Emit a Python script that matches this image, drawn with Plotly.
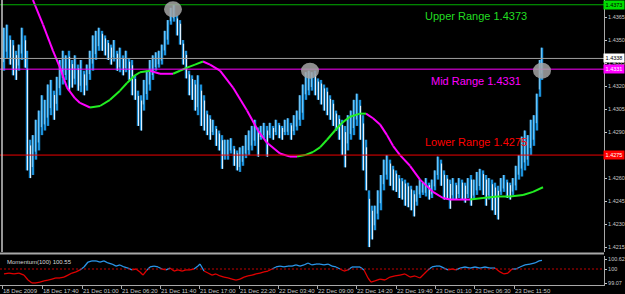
import plotly.graph_objects as go

# ---------------- data ----------------
bar_time = [4, 7, 10, 13, 16, 19, 22, 25, 27, 30,
            33, 36, 39, 42, 45, 48, 51, 54, 57, 60,
            63, 66, 69, 72, 75, 78, 81, 84, 87, 90,
            93, 96, 99, 102, 105, 108, 111, 114, 117, 120,
            123, 126, 129, 132, 135, 138, 141, 144, 147, 150,
            153, 156, 159, 162, 165, 168, 171, 174, 177, 180,
            183, 186, 189, 192, 195, 198, 201, 204, 207, 210,
            213, 216, 219, 222, 225, 228, 231, 234, 237, 240,
            243, 246, 249, 252, 255, 258, 261, 264, 267, 270,
            273, 276, 279, 282, 285, 288, 291, 294, 297, 300,
            303, 306, 309, 312, 315, 318, 321, 324, 327, 330,
            333, 336, 339, 342, 345, 348, 351, 354, 357, 360,
            363, 366, 369, 372, 375, 378, 381, 384, 387, 390,
            393, 396, 399, 402, 405, 408, 411, 414, 417, 420,
            423, 426, 429, 432, 435, 438, 441, 444, 447, 450,
            453, 456, 459, 462, 465, 468, 471, 474, 477, 480,
            483, 486, 489, 492, 495, 498, 501, 504, 507, 510,
            513, 516, 519, 522, 525, 528, 531, 534, 537, 540,
            542]
bar_high = [1.4358, 1.4360, 1.4353, 1.4350, 1.4343, 1.4347, 1.4358, 1.4353, 1.4343, 1.4285,
            1.4288, 1.4298, 1.4304, 1.4314, 1.4311, 1.4321, 1.4324, 1.4317, 1.4326, 1.4337,
            1.4343, 1.4340, 1.4343, 1.4337, 1.4340, 1.4334, 1.4337, 1.4330, 1.4334, 1.4343,
            1.4353, 1.4356, 1.4358, 1.4356, 1.4353, 1.4350, 1.4347, 1.4350, 1.4343, 1.4345,
            1.4340, 1.4343, 1.4338, 1.4337, 1.4327, 1.4317, 1.4314, 1.4324, 1.4330, 1.4337,
            1.4340, 1.4342, 1.4343, 1.4347, 1.4356, 1.4363, 1.4371, 1.4373, 1.4366, 1.4363,
            1.4350, 1.4343, 1.4330, 1.4327, 1.4324, 1.4327, 1.4321, 1.4314, 1.4304, 1.4301,
            1.4298, 1.4294, 1.4291, 1.4288, 1.4285, 1.4285, 1.4286, 1.4281, 1.4278, 1.4280,
            1.4281, 1.4288, 1.4291, 1.4294, 1.4298, 1.4293, 1.4294, 1.4296, 1.4294, 1.4296,
            1.4294, 1.4298, 1.4296, 1.4294, 1.4298, 1.4299, 1.4296, 1.4301, 1.4304, 1.4314,
            1.4321, 1.4329, 1.4330, 1.4329, 1.4330, 1.4325, 1.4324, 1.4321, 1.4319, 1.4314,
            1.4311, 1.4304, 1.4301, 1.4298, 1.4294, 1.4301, 1.4304, 1.4311, 1.4315, 1.4311,
            1.4301, 1.4285, 1.4252, 1.4242, 1.4242, 1.4252, 1.4262, 1.4272, 1.4275, 1.4272,
            1.4268, 1.4265, 1.4262, 1.4260, 1.4259, 1.4257, 1.4255, 1.4252, 1.4255, 1.4259,
            1.4257, 1.4260, 1.4257, 1.4259, 1.4265, 1.4274, 1.4272, 1.4265, 1.4262, 1.4259,
            1.4260, 1.4257, 1.4260, 1.4259, 1.4257, 1.4260, 1.4262, 1.4259, 1.4264, 1.4266,
            1.4265, 1.4262, 1.4260, 1.4259, 1.4257, 1.4255, 1.4260, 1.4262, 1.4259, 1.4257,
            1.4260, 1.4268, 1.4275, 1.4287, 1.4291, 1.4288, 1.4298, 1.4301, 1.4315, 1.4337,
            1.4345]
bar_low = [1.4330, 1.4338, 1.4334, 1.4327, 1.4324, 1.4330, 1.4337, 1.4332, 1.4265, 1.4260,
           1.4262, 1.4272, 1.4278, 1.4288, 1.4291, 1.4294, 1.4301, 1.4298, 1.4304, 1.4314,
           1.4321, 1.4324, 1.4317, 1.4319, 1.4321, 1.4317, 1.4316, 1.4314, 1.4317, 1.4324,
           1.4330, 1.4337, 1.4343, 1.4343, 1.4340, 1.4337, 1.4334, 1.4336, 1.4330, 1.4329,
           1.4327, 1.4329, 1.4324, 1.4314, 1.4311, 1.4294, 1.4291, 1.4304, 1.4311, 1.4317,
           1.4324, 1.4330, 1.4332, 1.4334, 1.4340, 1.4347, 1.4360, 1.4362, 1.4353, 1.4347,
           1.4334, 1.4325, 1.4314, 1.4311, 1.4304, 1.4301, 1.4294, 1.4291, 1.4288, 1.4285,
           1.4288, 1.4281, 1.4278, 1.4266, 1.4272, 1.4272, 1.4276, 1.4268, 1.4265, 1.4264,
           1.4268, 1.4273, 1.4275, 1.4278, 1.4281, 1.4274, 1.4285, 1.4286, 1.4274, 1.4286,
           1.4285, 1.4288, 1.4286, 1.4285, 1.4288, 1.4288, 1.4285, 1.4288, 1.4291, 1.4294,
           1.4298, 1.4311, 1.4314, 1.4317, 1.4314, 1.4311, 1.4308, 1.4304, 1.4301, 1.4298,
           1.4294, 1.4291, 1.4285, 1.4275, 1.4267, 1.4278, 1.4285, 1.4288, 1.4294, 1.4285,
           1.4265, 1.4252, 1.4215, 1.4220, 1.4226, 1.4233, 1.4239, 1.4252, 1.4259, 1.4255,
           1.4252, 1.4251, 1.4247, 1.4246, 1.4242, 1.4241, 1.4239, 1.4235, 1.4242, 1.4247,
           1.4249, 1.4248, 1.4246, 1.4247, 1.4252, 1.4259, 1.4255, 1.4246, 1.4246, 1.4240,
           1.4246, 1.4246, 1.4247, 1.4246, 1.4244, 1.4247, 1.4242, 1.4246, 1.4249, 1.4252,
           1.4249, 1.4242, 1.4246, 1.4239, 1.4236, 1.4233, 1.4249, 1.4251, 1.4247, 1.4246,
           1.4249, 1.4252, 1.4259, 1.4261, 1.4265, 1.4268, 1.4275, 1.4281, 1.4291, 1.4313,
           1.4324]

ma_time = [28, 33, 43, 53, 60, 67, 75, 80, 90, 100,
           110, 120, 127, 135, 140, 150, 160, 167, 173, 180,
           187, 195, 203, 210, 220, 233, 247, 258, 267, 280,
           290, 297, 305, 313, 320, 327, 335, 342, 350, 360,
           366, 373, 380, 387, 393, 400, 410, 420, 433, 443,
           450, 458, 470, 483, 497, 510, 523, 533, 543]
ma_price = [1.4386, 1.4376, 1.4360, 1.4343, 1.4332, 1.4319, 1.4312, 1.4309, 1.4306, 1.4307,
            1.4311, 1.4317, 1.4322, 1.4327, 1.4329, 1.4330, 1.4328, 1.4328, 1.4328, 1.4330,
            1.4332, 1.4334, 1.4336, 1.4334, 1.4330, 1.4319, 1.4304, 1.4291, 1.4283, 1.4276,
            1.4274, 1.4274, 1.4275, 1.4277, 1.4280, 1.4285, 1.4291, 1.4296, 1.4300, 1.4302,
            1.4302, 1.4299, 1.4295, 1.4288, 1.4281, 1.4275, 1.4268, 1.4259, 1.4251, 1.4247,
            1.4246, 1.4246, 1.4246, 1.4247, 1.4248, 1.4248, 1.4249, 1.4251, 1.4254]

mom_time = [4, 9, 14, 19, 24, 28, 32, 36, 40, 44,
            48, 52, 56, 60, 64, 68, 72, 76, 80, 84,
            88, 92, 96, 100, 104, 108, 112, 116, 120, 124,
            128, 132, 136, 140, 143, 147, 150, 154, 158, 162,
            166, 170, 174, 178, 182, 186, 190, 194, 198, 200,
            204, 208, 212, 216, 220, 224, 228, 232, 236, 240,
            244, 248, 252, 256, 260, 264, 268, 272, 276, 280,
            284, 288, 292, 296, 300, 304, 308, 312, 316, 320,
            324, 328, 332, 336, 340, 344, 348, 352, 356, 360,
            364, 368, 371, 375, 380, 385, 390, 395, 400, 405,
            410, 415, 420, 424, 428, 432, 436, 440, 444, 448,
            452, 456, 460, 465, 470, 475, 480, 485, 490, 495,
            500, 504, 508, 512, 516, 520, 525, 530, 535, 539,
            542]
mom_value = [99.68, 99.74, 99.68, 99.74, 99.61, 99.29, 99.10, 99.10, 99.16, 99.23,
             99.29, 99.35, 99.42, 99.42, 99.48, 99.61, 99.74, 99.81, 99.94, 100.13,
             100.45, 100.52, 100.52, 100.45, 100.52, 100.39, 100.32, 100.19, 100.26, 100.13,
             100.06, 99.94, 100.00, 99.81, 99.61, 99.94, 100.13, 100.19, 100.13, 100.00,
             99.94, 100.06, 99.87, 99.94, 99.87, 99.94, 99.94, 100.00, 100.19, 100.32,
             99.87, 99.74, 99.61, 99.68, 99.55, 99.48, 99.42, 99.35, 99.29, 99.35,
             99.48, 99.55, 99.61, 99.68, 99.74, 99.81, 99.87, 100.00, 100.13, 100.19,
             100.13, 100.19, 100.19, 100.26, 100.19, 100.26, 100.39, 100.26, 100.32, 100.32,
             100.26, 100.32, 100.19, 100.13, 100.00, 99.87, 99.94, 100.13, 100.13, 100.13,
             99.94, 99.42, 99.16, 99.23, 99.35, 99.29, 99.48, 99.55, 99.61, 99.68,
             99.48, 99.55, 99.42, 99.68, 99.94, 100.13, 100.19, 100.19, 100.06, 99.94,
             100.00, 99.94, 100.06, 100.13, 100.06, 100.13, 100.06, 100.13, 100.06, 100.06,
             99.81, 99.68, 99.74, 100.00, 100.00, 100.13, 100.26, 100.32, 100.39, 100.52,
             100.55]

tick_time = [2, 42, 82, 121, 160, 199, 239, 278, 317, 356, 396, 435, 474, 514]
tick_text = ["18 Dec 2009", "18 Dec 17:40", "21 Dec 01:00", "21 Dec 06:20",
             "21 Dec 11:40", "21 Dec 17:00", "21 Dec 22:20", "22 Dec 03:40",
             "22 Dec 09:00", "22 Dec 14:20", "22 Dec 19:40", "23 Dec 01:10",
             "23 Dec 06:30", "23 Dec 11:50"]

price_ticks = [1.4365, 1.4350, 1.4335, 1.4320, 1.4305, 1.4290,
               1.4260, 1.4245, 1.4230, 1.4215]
mom_ticks = [99.07, 100.0, 100.62]
mom_tick_text = ["99.07", "100", "100.62"]

range_names = ["Upper Range", "Mid Range", "Lower Range"]
range_levels = [1.4373, 1.4331, 1.4275]
range_colors = ["#22DD22", "#FF00FF", "#FF0000"]
range_line_colors = ["#00B000", "#FF00FF", "#EE0000"]
range_text_shift = [-11, -12, 13]
current_price = 1.4338

highlight_time = [173, 310, 542]
highlight_price = [1.4370, 1.4330, 1.4330]

momentum_label = "Momentum(100) 100.55"

# ---------------- geometry ----------------
W, H = 625, 294
X_END = 604 / W
MAIN_BOTTOM = 1 - 252 / H
MOM_DOM = [1 - 285 / H, 1 - 256 / H]
FONT = "Liberation Sans, Arial, sans-serif"

fig = go.Figure()

# price bars: blue range bars, white overlay on falling bars
mids = [(h + l) / 2 for h, l in zip(bar_high, bar_low)]
all_x, all_y, dn_x, dn_y, lt_x, lt_y = [], [], [], [], [], []
for i, (t, h, l) in enumerate(zip(bar_time, bar_high, bar_low)):
    all_x += [t, t, None]; all_y += [l, h, None]
    if i > 0 and mids[i] < mids[i - 1]:
        dn_x += [t + 0.6, t + 0.6, None]; dn_y += [l, h - (h - l) * 0.15, None]
    else:
        lt_x += [t - 0.7, t - 0.7, None]; lt_y += [l + (h - l) * 0.2, h, None]
fig.add_trace(go.Scatter(x=all_x, y=all_y, mode="lines",
                         line=dict(color="#1C8FD8", width=2.4), hoverinfo="skip"))
fig.add_trace(go.Scatter(x=lt_x, y=lt_y, mode="lines",
                         line=dict(color="#8ED8FF", width=0.9), hoverinfo="skip"))
fig.add_trace(go.Scatter(x=dn_x, y=dn_y, mode="lines",
                         line=dict(color="#F4FAFF", width=1.0), hoverinfo="skip"))

# moving average (green rising, magenta falling)
g_x, g_y, m_x, m_y = [], [], [], []
rising = False
for i in range(1, len(ma_time)):
    d = ma_price[i] - ma_price[i - 1]
    if d > 0:
        rising = True
    elif d < 0:
        rising = False
    seg_x = [ma_time[i - 1], ma_time[i], None]
    seg_y = [ma_price[i - 1], ma_price[i], None]
    if rising:
        g_x += seg_x; g_y += seg_y
    else:
        m_x += seg_x; m_y += seg_y
fig.add_trace(go.Scatter(x=m_x, y=m_y, mode="lines",
                         line=dict(color="#FF00FF", width=2), hoverinfo="skip"))
fig.add_trace(go.Scatter(x=g_x, y=g_y, mode="lines",
                         line=dict(color="#22EE22", width=2), hoverinfo="skip"))

# momentum
b_x, b_y, r_x, r_y = [], [], [], []
for i in range(1, len(mom_time)):
    seg_x = [mom_time[i - 1], mom_time[i], None]
    seg_y = [mom_value[i - 1], mom_value[i], None]
    if (mom_value[i - 1] + mom_value[i]) / 2 >= 100:
        b_x += seg_x; b_y += seg_y
    else:
        r_x += seg_x; r_y += seg_y
fig.add_trace(go.Scatter(x=r_x, y=r_y, mode="lines", yaxis="y2",
                         line=dict(color="#E00000", width=1.3), hoverinfo="skip"))
fig.add_trace(go.Scatter(x=b_x, y=b_y, mode="lines", yaxis="y2",
                         line=dict(color="#2A95E8", width=1.3), hoverinfo="skip"))

shapes = []
for lvl, c in zip(range_levels, range_line_colors):
    shapes.append(dict(type="line", xref="paper", yref="y", x0=0, x1=X_END,
                       y0=lvl, y1=lvl, line=dict(color=c, width=1)))
shapes.append(dict(type="line", xref="paper", yref="y", x0=0, x1=X_END,
                   y0=current_price, y1=current_price, line=dict(color="#A0A0A0", width=1)))
shapes.append(dict(type="line", xref="paper", yref="y2", x0=0, x1=X_END,
                   y0=100, y1=100, line=dict(color="#C00000", width=1, dash="2px,2px")))
for t, p in zip(highlight_time, highlight_price):
    shapes.append(dict(type="circle", xref="x", yref="y", xsizemode="pixel",
                       ysizemode="pixel", xanchor=t, yanchor=p, x0=-9, x1=9, y0=-8, y1=8,
                       fillcolor="rgba(165,165,165,0.85)", line=dict(width=0), layer="above"))
shapes.append(dict(type="line", xref="paper", yref="paper", x0=2 / W, x1=2 / W,
                   y0=MAIN_BOTTOM, y1=1, line=dict(color="#C8C8C8", width=1.5)))
shapes.append(dict(type="line", xref="paper", yref="paper", x0=0, x1=X_END,
                   y0=1 - 253.5 / H, y1=1 - 253.5 / H, line=dict(color="#A8A8A8", width=2)))

annotations = []
for name, lvl, c, sh in zip(range_names, range_levels, range_colors, range_text_shift):
    annotations.append(dict(x=476, y=lvl, xref="x", yref="y", yshift=sh,
                            text=f"{name} {lvl:.4f}", showarrow=False,
                            font=dict(family=FONT, size=11, color=c),
                            xanchor="center", yanchor="middle"))
box_specs = [(range_levels[0], "#00DD00", "#000000"),
             (current_price, "#FFFFFF", "#000000"),
             (range_levels[1], "#FF00FF", "#FFFFFF"),
             (range_levels[2], "#FF0000", "#FFFFFF")]
for lvl, bg, fc in box_specs:
    annotations.append(dict(x=1, y=lvl, xref="paper", yref="y",
                            text=f"{lvl:.4f}", showarrow=False, xanchor="right",
                            yanchor="middle", bgcolor=bg, borderpad=1, width=18,
                            font=dict(family=FONT, size=5.5, color=fc)))
annotations.append(dict(x=5 / W, y=1 - 262 / H, xref="paper", yref="paper",
                        text=momentum_label, showarrow=False, xanchor="left",
                        yanchor="middle", font=dict(family=FONT, size=6, color="#D8D8D8")))

axis_font = dict(family=FONT, size=5.5, color="#C8C8C8")
fig.update_layout(
    width=W, height=H, margin=dict(l=0, r=0, t=0, b=0, autoexpand=False),
    paper_bgcolor="#000000", plot_bgcolor="#000000", showlegend=False,
    shapes=shapes, annotations=annotations,
    xaxis=dict(domain=[0, X_END], range=[0, 604], anchor="y2", showgrid=False,
               zeroline=False, tickvals=tick_time, ticktext=tick_text,
               ticks="outside", ticklen=3, tickcolor="#A8A8A8", tickangle=0,
               ticklabelposition="outside right", tickfont=dict(family=FONT, size=6, color="#C8C8C8"),
               automargin=False, showline=True, linecolor="#A8A8A8", linewidth=1),
    yaxis=dict(domain=[MAIN_BOTTOM, 1], range=[1.42118, 1.43761], side="right",
               anchor="x", showgrid=False, zeroline=False, tickvals=price_ticks,
               ticktext=[f"{v:.4f}" for v in price_ticks], ticks="outside",
               ticklen=2, tickcolor="#C8C8C8", tickfont=axis_font, automargin=False,
               showline=True, linecolor="#A8A8A8", linewidth=1),
    yaxis2=dict(domain=MOM_DOM, range=[98.968, 100.839], side="right",
                anchor="x", showgrid=False, zeroline=False, tickvals=mom_ticks,
                ticktext=mom_tick_text, ticks="outside", ticklen=2,
                tickcolor="#C8C8C8", tickfont=axis_font, automargin=False,
                showline=True, linecolor="#A8A8A8", linewidth=1),
)

fig.write_html("out.html")
